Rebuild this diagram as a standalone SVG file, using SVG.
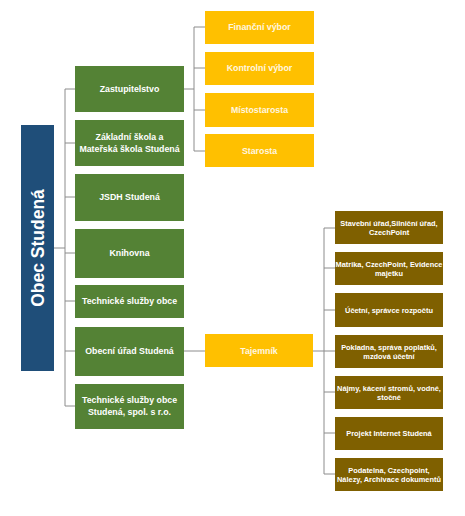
<svg xmlns="http://www.w3.org/2000/svg" width="465" height="516" viewBox="0 0 465 516">
<style>
.g{fill:#548235}
.y{fill:#ffc000}
.b{fill:#7f6000}
.t{font-family:"Liberation Sans",Arial,sans-serif;font-weight:bold;fill:#fff;text-anchor:middle}
.tg{font-size:8.8px}
.ty{font-size:8.8px;fill:#fff7e0}
.tb{font-size:7.4px}
.c{fill:none;stroke:#8c8c8c;stroke-width:1}
</style>
<rect width="465" height="516" fill="#fff"/>
<g id="connectors">
<path class="c" d="M54 248H65M65 89V406M65 89H75M65 143H75M65 197H75M65 253H75M65 301H75M65 351H75M65 406H75"/>
<path class="c" d="M184 89H194M194 27V151M194 27H205M194 68H205M194 110H205M194 151H205"/>
<path class="c" d="M184 351H205"/>
<path class="c" d="M313 351H324M324 228V474M324 228H335M324 268H335M324 310H335M324 351H335M324 392H335M324 433H335M324 474H335"/>
</g>
<g id="obec"><rect x="21" y="125" width="33" height="246" fill="#1f4e79"/><text class="t" transform="translate(43.5 248) rotate(-90)" font-size="17.5">Obec Studená</text></g>
<g id="zastupitelstvo"><rect class="g" x="75" y="66" width="109" height="46"/><text class="t tg" x="129.5" y="92">Zastupitelstvo</text></g>
<g id="skola"><rect class="g" x="75" y="120" width="109" height="46"/><text class="t tg" x="129.5" y="140">Základní škola a</text><text class="t tg" x="129.5" y="152">Mateřská škola Studená</text></g>
<g id="jsdh"><rect class="g" x="75" y="174" width="109" height="47"/><text class="t tg" x="129.5" y="200">JSDH Studená</text></g>
<g id="knihovna"><rect class="g" x="75" y="229" width="109" height="49"/><text class="t tg" x="129.5" y="256">Knihovna</text></g>
<g id="tso"><rect class="g" x="75" y="285" width="109" height="33"/><text class="t tg" x="129.5" y="304">Technické služby obce</text></g>
<g id="urad"><rect class="g" x="75" y="327" width="109" height="49"/><text class="t tg" x="129.5" y="354">Obecní úřad Studená</text></g>
<g id="tsos"><rect class="g" x="75" y="384" width="109" height="45"/><text class="t tg" x="129.5" y="403">Technické služby obce</text><text class="t tg" x="129.5" y="415">Studená, spol. s r.o.</text></g>
<g id="financni"><rect class="y" x="205" y="11" width="109" height="33"/><text class="t ty" x="259.5" y="30">Finanční výbor</text></g>
<g id="kontrolni"><rect class="y" x="205" y="52" width="109" height="33"/><text class="t ty" x="259.5" y="71">Kontrolní výbor</text></g>
<g id="mistostarosta"><rect class="y" x="205" y="93" width="109" height="34"/><text class="t ty" x="259.5" y="113">Místostarosta</text></g>
<g id="starosta"><rect class="y" x="205" y="134" width="109" height="33"/><text class="t ty" x="259.5" y="154">Starosta</text></g>
<g id="tajemnik"><rect class="y" x="205" y="334" width="108" height="33"/><text class="t ty" x="259" y="354">Tajemník</text></g>
<g id="b1"><rect class="b" x="335" y="211" width="108" height="33"/><text class="t tb" x="389" y="225.5">Stavební úřad,Silniční úřad,</text><text class="t tb" x="389" y="235">CzechPoint</text></g>
<g id="b2"><rect class="b" x="335" y="252" width="108" height="33"/><text class="t tb" x="389" y="266.5">Matrika, CzechPoint, Evidence</text><text class="t tb" x="389" y="276">majetku</text></g>
<g id="b3"><rect class="b" x="335" y="293" width="108" height="34"/><text class="t tb" x="389" y="312.5">Účetní, správce rozpočtu</text></g>
<g id="b4"><rect class="b" x="335" y="335" width="108" height="33"/><text class="t tb" x="389" y="349.5">Pokladna, správa poplatků,</text><text class="t tb" x="389" y="359">mzdová účetní</text></g>
<g id="b5"><rect class="b" x="335" y="376" width="108" height="33"/><text class="t tb" x="389" y="390.5">Nájmy, kácení stromů, vodné,</text><text class="t tb" x="389" y="400">stočné</text></g>
<g id="b6"><rect class="b" x="335" y="417" width="108" height="33"/><text class="t tb" x="389" y="436">Projekt Internet Studená</text></g>
<g id="b7"><rect class="b" x="335" y="458" width="108" height="33"/><text class="t tb" x="389" y="472.5">Podatelna, Czechpoint,</text><text class="t tb" x="389" y="482">Nálezy, Archivace dokumentů</text></g>
</svg>
